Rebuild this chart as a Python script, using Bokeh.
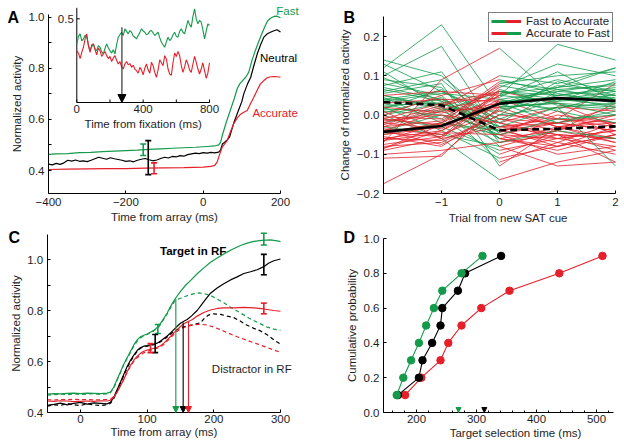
from bokeh.plotting import figure
from bokeh.layouts import column, row
from bokeh.models import (ColumnDataSource, Whisker, TeeHead, Arrow, NormalHead,
                          FixedTicker, Range1d, Legend, LegendItem, LinearAxis)
from bokeh.core.properties import value
from bokeh.embed import file_html
from bokeh.resources import INLINE

# ---------------- Panel A: time from array (ms) ----------------
A_FAST_T = [-400,-380,-350,-320,-290,-260,-230,-200,-170,-140,-110,-80,-50,-20,10,30,40,45,50,60,
            70,80,88,95,102,110,118,126,135,145,153,160,166,175,183,190,200]
A_FAST_V = [0.463,0.465,0.466,0.470,0.471,0.474,0.476,0.478,0.480,0.483,0.485,0.487,0.489,0.491,0.494,
            0.496,0.500,0.510,0.540,0.590,0.635,0.680,0.720,0.740,0.752,0.765,0.785,0.830,0.870,0.910,
            0.940,0.965,0.984,0.997,1.003,1.004,0.998]
A_NEU_T = [-400,-390,-380,-370,-360,-350,-340,-330,-320,-310,-300,-290,-280,-270,-260,-250,-240,-230,
           -220,-210,-200,-190,-180,-170,-160,-150,-140,-130,-120,-110,-100,-90,-80,-70,-60,-50,-40,
           -30,-20,-10,0,10,20,30,40,45,50,55,62,68,75,80,90,100,105,115,123,131,140,148,157,166,174,
           183,191,200]
A_NEU_V = [0.425,0.422,0.428,0.424,0.430,0.440,0.437,0.441,0.436,0.438,0.435,0.440,0.446,0.452,0.448,
           0.444,0.450,0.446,0.443,0.440,0.436,0.438,0.434,0.440,0.444,0.447,0.442,0.438,0.441,0.447,
           0.452,0.449,0.455,0.453,0.458,0.456,0.462,0.465,0.468,0.466,0.470,0.468,0.471,0.469,0.472,
           0.480,0.505,0.510,0.520,0.530,0.565,0.590,0.630,0.670,0.700,0.740,0.765,0.810,0.857,0.890,
           0.922,0.935,0.941,0.947,0.951,0.942]
A_ACC_T = [-400,-350,-300,-250,-200,-150,-100,-50,0,20,30,36,42,49,56,62,70,79,88,95,105,114,122,131,
           140,148,157,166,175,183,191,200]
A_ACC_V = [0.404,0.405,0.406,0.407,0.407,0.409,0.410,0.411,0.413,0.416,0.420,0.433,0.460,0.490,0.505,
           0.517,0.550,0.583,0.605,0.618,0.628,0.635,0.660,0.687,0.715,0.739,0.752,0.763,0.767,0.768,
           0.767,0.765]
A_ERR_T = [-155, -142, -127]           # fast, neutral, accurate
A_ERR_LO = [0.459, 0.384, 0.387]
A_ERR_HI = [0.504, 0.517, 0.430]

# inset: time from fixation (ms)
INSET_T = list(range(0, 801, 10))
INSET_FAST = [0.440,0.458,0.464,0.447,0.452,0.461,0.456,0.437,0.424,0.433,
              0.440,0.428,0.424,0.436,0.432,0.421,0.416,0.429,0.440,0.431,
              0.424,0.418,0.426,0.416,0.438,0.456,0.462,0.468,0.460,0.476,
              0.470,0.464,0.472,0.468,0.459,0.456,0.452,0.460,0.467,0.476,
              0.471,0.468,0.462,0.464,0.470,0.472,0.466,0.460,0.464,0.468,
              0.455,0.444,0.438,0.432,0.445,0.456,0.448,0.452,0.462,0.468,
              0.458,0.456,0.470,0.476,0.468,0.464,0.480,0.496,0.486,0.480,
              0.505,0.524,0.500,0.488,0.496,0.492,0.474,0.452,0.470,0.488,
              0.484]
INSET_ACC = [0.424,0.418,0.405,0.420,0.432,0.452,0.464,0.436,0.420,0.438,
             0.440,0.426,0.414,0.430,0.424,0.410,0.416,0.422,0.412,0.405,
             0.410,0.398,0.406,0.412,0.401,0.392,0.398,0.385,0.380,0.392,
             0.398,0.390,0.393,0.384,0.389,0.380,0.376,0.370,0.384,0.378,
             0.366,0.382,0.392,0.378,0.370,0.396,0.388,0.372,0.360,0.378,
             0.402,0.395,0.388,0.412,0.404,0.380,0.368,0.365,0.395,0.418,
             0.410,0.422,0.412,0.388,0.372,0.385,0.402,0.392,0.378,0.372,
             0.392,0.410,0.396,0.380,0.368,0.380,0.395,0.376,0.358,0.370,
             0.395]
INSET_ARROW_T = 272
INSET_ARROW_TOP = 0.48

# ---------------- Panel B: trial from new SAT cue ----------------
B_TRIALS = [-2, -1, 0, 1, 2]
B_FAST_TO_ACC = [
    [0.14, 0.10, -0.02, -0.05, -0.06], [0.12, 0.23, 0.02, -0.03, -0.02],
    [0.10, 0.175, -0.05, -0.06, -0.04], [0.08, 0.05, -0.08, -0.04, -0.07],
    [0.06, 0.09, -0.03, -0.02, 0.00], [0.05, 0.02, -0.06, -0.09, -0.05],
    [0.04, 0.06, 0.00, -0.01, -0.03], [0.03, -0.01, -0.10, -0.05, -0.12],
    [0.02, 0.04, -0.04, -0.07, -0.02], [0.01, 0.00, -0.07, -0.03, -0.06],
    [0.00, 0.03, -0.02, 0.02, 0.01], [-0.01, -0.03, -0.09, -0.06, -0.04],
    [-0.02, 0.01, -0.05, -0.10, -0.08], [0.07, 0.04, -0.01, -0.04, 0.03],
    [0.09, 0.07, -0.06, -0.08, -0.05], [0.11, 0.02, -0.12, -0.07, -0.10],
    [0.035, 0.055, 0.04, -0.01, -0.02], [0.045, -0.02, -0.04, -0.02, 0.02],
    [0.025, 0.03, -0.03, -0.05, -0.06], [-0.03, -0.05, -0.08, -0.13, -0.12],
    [0.055, 0.08, -0.13, -0.03, -0.01], [0.015, 0.01, 0.06, 0.03, -0.03],
    [-0.05, -0.02, -0.05, -0.02, -0.04], [0.065, 0.035, -0.02, -0.06, -0.08],
    [0.005, 0.045, -0.06, -0.04, 0.00], [0.02, -0.04, -0.11, -0.08, -0.05],
    [-0.04, 0.00, -0.04, 0.00, -0.02], [0.05, 0.015, 0.01, -0.03, -0.07],
    [0.00, -0.06, -0.165, -0.12, -0.09], [0.04, 0.03, -0.03, -0.01, 0.08],
    [0.13, 0.06, -0.01, -0.02, -0.04], [0.075, 0.11, -0.07, -0.05, -0.09],
    [0.015, 0.065, -0.035, -0.08, -0.03], [0.095, 0.035, -0.045, 0.01, -0.05],
]
B_ACC_TO_FAST = [
    [-0.175, -0.10, 0.02, 0.03, 0.02], [-0.11, -0.105, 0.04, 0.06, 0.05],
    [-0.09, -0.06, 0.06, 0.05, 0.07], [-0.08, -0.07, 0.00, 0.02, 0.03],
    [-0.07, 0.09, 0.17, 0.04, 0.06], [-0.06, -0.04, 0.03, 0.07, 0.09],
    [-0.05, -0.03, 0.08, 0.10, 0.11], [-0.045, -0.02, 0.05, 0.18, 0.14],
    [-0.04, 0.01, 0.02, 0.03, 0.00], [-0.035, -0.05, 0.01, 0.05, 0.04],
    [-0.03, -0.015, 0.07, 0.13, 0.10], [-0.025, 0.02, 0.10, 0.08, 0.12],
    [-0.02, -0.035, 0.04, 0.01, -0.02], [-0.015, 0.00, -0.02, 0.06, 0.08],
    [-0.01, 0.03, 0.06, 0.04, 0.05], [0.00, 0.05, 0.09, 0.055, 0.03],
    [0.01, -0.06, -0.03, 0.02, -0.13], [0.03, 0.04, 0.035, 0.045, 0.02],
    [0.05, 0.06, 0.05, 0.09, 0.06], [-0.055, -0.08, 0.015, 0.035, 0.045],
    [-0.065, -0.045, -0.05, -0.01, 0.00], [-0.085, -0.025, 0.025, 0.065, 0.075],
    [-0.10, -0.09, -0.07, -0.04, -0.06], [-0.03, 0.015, 0.045, 0.11, 0.035],
    [-0.075, -0.055, 0.065, 0.025, 0.015], [-0.005, -0.01, 0.075, 0.05, 0.065],
    [-0.06, -0.065, 0.00, 0.085, 0.05], [0.02, 0.005, 0.03, -0.02, 0.01],
    [-0.04, -0.075, -0.01, 0.04, 0.025], [-0.02, 0.025, 0.055, 0.07, 0.12],
    [-0.065, -0.02, 0.085, 0.065, 0.04], [-0.045, -0.055, 0.035, 0.015, 0.055],
    [-0.085, -0.04, 0.05, 0.035, 0.085], [-0.01, -0.025, 0.02, 0.075, 0.06],
]
B_MEAN_ACC_TO_FAST = [-0.043, -0.028, 0.029, 0.043, 0.036]   # solid
B_MEAN_FAST_TO_ACC = [0.033, 0.025, -0.039, -0.035, -0.029]   # dashed

# ---------------- Panel C: time from array (ms) ----------------
C_FAST_T = [-50,-40,-30,-20,-10,0,10,20,30,40,45,50,55,60,65,70,75,80,85,90,95,100,105,110,117,124,
            130,136,142,150,158,166,175,185,195,205,215,228,240,250,260,272,285,295,300]
C_FAST_V = [0.472,0.474,0.473,0.475,0.476,0.474,0.476,0.475,0.474,0.476,0.480,0.500,0.530,0.560,0.590,
            0.615,0.640,0.665,0.685,0.697,0.703,0.708,0.715,0.722,0.738,0.765,0.790,0.820,0.846,0.875,
            0.900,0.920,0.944,0.967,0.989,1.006,1.022,1.040,1.055,1.064,1.071,1.075,1.077,1.073,1.070]
C_FAST_D_T = [-50,-40,-30,-20,-10,0,10,20,30,40,45,50,55,60,65,70,75,80,85,90,95,100,105,110,117,124,
              130,136,142,150,160,170,178,186,195,205,215,225,240,255,268,280,290,300]
C_FAST_D_V = [0.468,0.470,0.472,0.470,0.473,0.471,0.472,0.474,0.471,0.473,0.478,0.497,0.527,0.557,0.588,
              0.612,0.636,0.660,0.680,0.693,0.700,0.706,0.713,0.720,0.735,0.762,0.787,0.815,0.840,0.848,
              0.858,0.866,0.869,0.866,0.859,0.845,0.830,0.813,0.790,0.767,0.750,0.735,0.727,0.722]
C_NEU_T = [-50,-40,-30,-20,-10,0,10,20,30,40,45,50,55,60,65,70,75,80,85,90,95,100,105,110,115,120,125,
           130,135,140,145,150,155,160,167,175,185,195,205,215,225,235,245,255,265,275,282,290,300]
C_NEU_V = [0.428,0.432,0.437,0.430,0.436,0.440,0.433,0.438,0.436,0.434,0.440,0.460,0.490,0.520,0.550,
           0.580,0.605,0.625,0.643,0.655,0.660,0.662,0.665,0.668,0.672,0.680,0.690,0.700,0.712,0.725,
           0.738,0.750,0.758,0.765,0.780,0.800,0.835,0.868,0.888,0.905,0.920,0.932,0.945,0.952,0.960,
           0.972,0.985,0.995,1.002]
C_NEU_D_T = [-50,-40,-30,-20,-10,0,10,20,30,40,45,50,55,60,65,70,75,80,85,90,95,100,105,110,115,120,
             125,130,135,140,150,160,170,180,186,192,200,210,220,230,240,250,260,270,280,290,300]
C_NEU_D_V = [0.425,0.430,0.428,0.435,0.430,0.427,0.435,0.430,0.427,0.430,0.436,0.455,0.485,0.515,0.545,
             0.575,0.600,0.622,0.640,0.652,0.657,0.660,0.663,0.666,0.670,0.677,0.686,0.696,0.707,0.718,
             0.732,0.740,0.745,0.752,0.770,0.782,0.787,0.785,0.778,0.772,0.758,0.742,0.730,0.720,0.705,
             0.685,0.668]
C_ACC_T = [-50,-40,-30,-20,-10,0,10,20,30,40,45,50,55,60,65,70,75,80,85,90,95,100,105,110,115,120,125,
           130,135,140,145,150,155,160,168,175,185,195,205,215,230,245,260,275,290,300]
C_ACC_V = [0.445,0.444,0.446,0.445,0.443,0.444,0.445,0.444,0.446,0.445,0.448,0.460,0.480,0.505,0.530,
           0.560,0.585,0.605,0.620,0.632,0.640,0.645,0.648,0.652,0.656,0.662,0.672,0.685,0.698,0.712,
           0.725,0.737,0.748,0.755,0.765,0.778,0.792,0.802,0.808,0.810,0.810,0.812,0.810,0.806,0.800,
           0.797]
C_ACC_D_T = [-50,-40,-30,-20,-10,0,10,20,30,40,45,50,55,60,65,70,75,80,85,90,95,100,105,110,115,120,
             125,130,135,140,145,150,160,170,180,190,200,210,220,235,250,265,280,290,300]
C_ACC_D_V = [0.450,0.449,0.451,0.450,0.452,0.450,0.451,0.449,0.450,0.451,0.452,0.462,0.482,0.506,0.530,
             0.558,0.582,0.601,0.615,0.626,0.634,0.640,0.644,0.648,0.652,0.658,0.667,0.680,0.693,0.706,
             0.718,0.728,0.738,0.744,0.746,0.743,0.735,0.725,0.713,0.697,0.683,0.669,0.655,0.645,0.636]
C_ERR_FAST = dict(t=[116, 275], lo=[0.710, 1.057], hi=[0.745, 1.103])
C_ERR_NEU = dict(t=[112, 275], lo=[0.635, 0.940], hi=[0.706, 1.020])
C_ERR_ACC = dict(t=[105, 275], lo=[0.635, 0.787], hi=[0.670, 0.829])
C_SEL_T = [143, 154, 162]             # target selection times: fast, neutral, accurate
C_SEL_TOP = [0.845, 0.753, 0.758]

# ---------------- Panel D: cumulative target selection time ----------------
D_PROB = [0.1, 0.2, 0.3, 0.4, 0.5, 0.6, 0.7, 0.8, 0.9]
D_FAST = [167, 178, 191, 204, 216, 229, 243, 275, 310]
D_NEU = [169, 204, 210, 226, 240, 243, 269, 281, 341]
D_ACC = [181, 208, 240, 253, 275, 308, 355, 438, 510]
D_MEAN_FAST = 270
D_MEAN_NEU = 313

# tick labels
A_XTICKS, A_XLABELS = [-400, -200, 0, 200], ["\u2212400", "\u2212200", "0", "200"]
A_YTICKS, A_YLABELS = [0.4, 0.6, 0.8, 1.0], ["0.4", "0.6", "0.8", "1.0"]
INSET_XTICKS, INSET_XLABELS = [0, 400, 800], ["0", "400", "800"]
B_XTICKS, B_XLABELS = [-1, 0, 1, 2], ["\u22121", "0", "1", "2"]
B_YTICKS, B_YLABELS = [-0.2, -0.1, 0.0, 0.1, 0.2], ["\u22120.2", "\u22120.1", "0.0", "0.1", "0.2"]
C_XTICKS, C_XLABELS = [0, 100, 200, 300], ["0", "100", "200", "300"]
C_YTICKS, C_YLABELS = [0.4, 0.6, 0.8, 1.0], ["0.4", "0.6", "0.8", "1.0"]
D_XTICKS, D_XLABELS = [200, 300, 400, 500], ["200", "300", "400", "500"]
D_YTICKS, D_YLABELS = [0.0, 0.2, 0.4, 0.6, 0.8, 1.0], ["0.0", "0.2", "0.4", "0.6", "0.8", "1.0"]

# ---------------- style ----------------
GREEN = "#139a4a"
RED = "#e5202a"
BLACK = "#000000"
TXT = "#1e1e1e"
FONT = "Liberation Sans"
FS = "11.5px"


def lin_range(va, pa, vb, pb, size):
    """range covering pixels 0..size, given two (value, pixel) anchor points"""
    k = (vb - va) / (pb - pa)
    a, b = va - pa * k, va + (size - pa) * k
    return (min(a, b), max(a, b))


def base_fig(w, h, xanchor, yanchor):
    xr = lin_range(*xanchor, w)
    yr = lin_range(*yanchor, h)
    p = figure(width=w, height=h, x_range=Range1d(*xr), y_range=Range1d(*yr),
               output_backend="svg", toolbar_location=None, x_axis_location=None,
               y_axis_location=None, min_border=0)
    p.grid.visible = False
    p.outline_line_color = None
    p.background_fill_color = "white"
    p.border_fill_color = "white"
    return p, xr, yr


def add_axis(p, side, loc, ticks, labels, label, bounds, minor=(), lstand=4, astand=2):
    ax = LinearAxis(fixed_location=loc)
    ax.ticker = FixedTicker(ticks=list(ticks), minor_ticks=list(minor))
    ax.major_label_overrides = dict(zip(ticks, labels))
    ax.bounds = bounds
    ax.axis_label = label
    ax.major_tick_in = 3
    ax.major_tick_out = 0
    ax.minor_tick_in = 3
    ax.minor_tick_out = 0
    ax.axis_line_color = "black"
    ax.major_tick_line_color = "black"
    ax.minor_tick_line_color = "black"
    ax.major_label_text_font = FONT
    ax.major_label_text_font_size = FS
    ax.major_label_text_color = TXT
    ax.major_label_standoff = lstand
    ax.axis_label_text_font = FONT
    ax.axis_label_text_font_size = FS
    ax.axis_label_text_font_style = "normal"
    ax.axis_label_text_color = TXT
    ax.axis_label_standoff = astand
    p.add_layout(ax, side)
    return ax


def txt(p, x, y, s, color=TXT, align="center", baseline="middle", bold=False, size=FS, **kw):
    return p.text(x=[x], y=[y], text=[s], text_color=color, text_align=align,
                  text_baseline=baseline, text_font=value(FONT), text_font_size=value(size),
                  text_font_style="bold" if bold else "normal", **kw)


def panel_letter(p, xr, yr, s, dx, dy):
    txt(p, xr[0], yr[1], s, "black", align="left", baseline="top", bold=True, size="16px",
        x_offset=dx, y_offset=dy)


def whisker(p, t, lo, hi, color):
    src = ColumnDataSource(dict(t=t, lo=lo, hi=hi))
    p.add_layout(Whisker(source=src, base="t", lower="lo", upper="hi", dimension="height",
                         line_color=color, line_width=1.6, level="annotation",
                         upper_head=TeeHead(size=6, line_color=color, line_width=1.6),
                         lower_head=TeeHead(size=6, line_color=color, line_width=1.6)))


# ================= Panel A =================
AW, AH = 316, 224
pA, axr, ayr = base_fig(AW, AH, (-400, 48, 200, 280), (0.4, 170, 1.0, 16.7))
add_axis(pA, "below", 0.309, A_XTICKS, A_XLABELS, "Time from array (ms)", (-400, 200),
         lstand=4, astand=2)
add_axis(pA, "left", -400, A_YTICKS, A_YLABELS, "Normalized activity", (0.309, 1.01),
         minor=[0.5, 0.7, 0.9], lstand=4, astand=3)
pA.line(A_FAST_T, A_FAST_V, line_color=GREEN, line_width=1.2)
pA.line(A_NEU_T, A_NEU_V, line_color=BLACK, line_width=1.2)
pA.line(A_ACC_T, A_ACC_V, line_color=RED, line_width=1.2)
for i, c in enumerate([GREEN, BLACK, RED]):
    whisker(pA, [A_ERR_T[i]], [A_ERR_LO[i]], [A_ERR_HI[i]], c)
txt(pA, 218, 1.026, "Fast", GREEN)
txt(pA, 195, 0.841, "Neutral", BLACK)
txt(pA, 186, 0.626, "Accurate", RED)
panel_letter(pA, axr, ayr, "A", 7, 8)

# inset (its own scales, mapped onto a box inside panel A)
ixr = lin_range(0, 76.3, 800, 209, AW)
iyr = lin_range(0.5, 18.3, 0.3, 102, AH)
pA.extra_x_ranges = {"ix": Range1d(*ixr)}
pA.extra_y_ranges = {"iy": Range1d(*iyr)}
ik = dict(x_range_name="ix", y_range_name="iy")
ipx = (209 - 76.3) / 800
ipy = (102 - 18.3) / 0.2
IY0, IY1 = 0.3, 0.5 + 11 / ipy
pA.line([0, 0, 800], [IY1, IY0, IY0], line_color="black", line_width=1, **ik)
pA.segment(x0=[0, 200, 400, 600, 800], y0=[IY0] * 5, x1=[0, 200, 400, 600, 800],
           y1=[IY0 + 3 / ipy] * 5, line_color="black", **ik)
pA.segment(x0=[0], y0=[0.5], x1=[3 / ipx], y1=[0.5], line_color="black", **ik)
pA.line(INSET_T, INSET_FAST, line_color=GREEN, line_width=1.1, **ik)
pA.line(INSET_T, INSET_ACC, line_color=RED, line_width=1.1, **ik)
pA.add_layout(Arrow(x_start=INSET_ARROW_T, y_start=INSET_ARROW_TOP, x_end=INSET_ARROW_T, y_end=IY0,
                    line_color="#333333", line_width=1.2,
                    end=NormalHead(size=8, fill_color="black", line_color="black"), **ik))
pA.text(x=INSET_XTICKS, y=[IY0] * 3, text=INSET_XLABELS, text_align="center", text_baseline="top",
        y_offset=2, text_font=value(FONT), text_font_size=value(FS), text_color=TXT, **ik)
pA.text(x=[0], y=[0.5], text=["0.5"], text_align="right", text_baseline="middle", x_offset=-3,
        text_font=value(FONT), text_font_size=value(FS), text_color=TXT, **ik)
pA.text(x=[400], y=[IY0], text=["Time from fixation (ms)"], text_align="center",
        text_baseline="top", y_offset=15, text_font=value(FONT), text_font_size=value(FS),
        text_color=TXT, **ik)

# ================= Panel B =================
BW, BH = 308, 224
pB, bxr, byr = base_fig(BW, BH, (-2, 67, 2, 299), (0.2, 36, -0.2, 193))
add_axis(pB, "below", -0.2, B_XTICKS, B_XLABELS, "", (-2, 2), lstand=4, astand=0)
add_axis(pB, "left", -2, B_YTICKS, B_YLABELS, "Change of normalized activity", (-0.2, 0.25),
         lstand=4, astand=3)
txt(pB, 0.15, -0.2, "Trial from new SAT cue", baseline="top", y_offset=18)


def halves(lines):
    lx = [B_TRIALS[:3] for _ in lines]
    ly = [v[:3] for v in lines]
    rx = [B_TRIALS[2:] for _ in lines]
    ry = [v[2:] for v in lines]
    return lx, ly, rx, ry


fa = halves(B_FAST_TO_ACC)
af = halves(B_ACC_TO_FAST)
pB.multi_line(fa[0], fa[1], line_color=GREEN, line_width=0.8)
pB.multi_line(af[0], af[1], line_color=RED, line_width=0.8)
pB.multi_line(fa[2], fa[3], line_color=RED, line_width=0.8)
pB.multi_line(af[2], af[3], line_color=GREEN, line_width=0.8)
pB.line(B_TRIALS, B_MEAN_ACC_TO_FAST, line_color="black", line_width=2.6)
pB.line(B_TRIALS, B_MEAN_FAST_TO_ACC, line_color="black", line_width=2.6, line_dash="7 4")

# legend swatches (drawn off-range; only their legend glyphs are seen)
OFF_X, OFF_Y = [bxr[1] + 5, bxr[1] + 6], [0, 0]
lg1 = pB.line(OFF_X, OFF_Y, line_color=GREEN, line_width=3)
lr1 = pB.line(OFF_X, OFF_Y, line_color=RED, line_width=3, line_dash="0 15 15")
lr2 = pB.line(OFF_X, OFF_Y, line_color=RED, line_width=3)
lg2 = pB.line(OFF_X, OFF_Y, line_color=GREEN, line_width=3, line_dash="0 15 15")
leg = Legend(items=[LegendItem(label="Fast to Accurate", renderers=[lg1, lr1]),
                    LegendItem(label="Accurate to Fast", renderers=[lr2, lg2])],
             location=(172, BH - 42), margin=0, padding=2, spacing=0, label_standoff=5,
             glyph_width=30, glyph_height=12, label_height=12,
             border_line_color="black", border_line_width=1, background_fill_alpha=1,
             label_text_font=FONT, label_text_font_size=FS, label_text_color=TXT)
pB.add_layout(leg)
panel_letter(pB, bxr, byr, "B", 27, 8)

# ================= Panel C =================
CW, CH = 316, 222
pC, cxr, cyr = base_fig(CW, CH, (0, 80, 300, 280), (0.4, 188, 1.0, 35))
add_axis(pC, "below", 0.4, C_XTICKS, C_XLABELS, "Time from array (ms)", (-50, 300),
         lstand=2, astand=0)
add_axis(pC, "left", -50, C_YTICKS, C_YLABELS, "Normalized activity", (0.4, 1.1),
         minor=[0.5, 0.7, 0.9], lstand=4, astand=3)
DASH = "4 3"
pC.line(C_FAST_D_T, C_FAST_D_V, line_color=GREEN, line_width=1.2, line_dash=DASH)
pC.line(C_NEU_D_T, C_NEU_D_V, line_color=BLACK, line_width=1.2, line_dash=DASH)
pC.line(C_ACC_D_T, C_ACC_D_V, line_color=RED, line_width=1.2, line_dash=DASH)
pC.line(C_FAST_T, C_FAST_V, line_color=GREEN, line_width=1.2)
pC.line(C_NEU_T, C_NEU_V, line_color=BLACK, line_width=1.2)
pC.line(C_ACC_T, C_ACC_V, line_color=RED, line_width=1.2)
for err, c in [(C_ERR_FAST, GREEN), (C_ERR_NEU, BLACK), (C_ERR_ACC, RED)]:
    whisker(pC, err["t"], err["lo"], err["hi"], c)
for t, top, c in zip(C_SEL_T, C_SEL_TOP, [GREEN, BLACK, RED]):
    pC.add_layout(Arrow(x_start=t, y_start=top, x_end=t, y_end=0.4, line_color=c, line_width=1.1,
                        end=NormalHead(size=6, fill_color=c, line_color=c)))
txt(pC, 169, 1.035, "Target in RF", BLACK, bold=True)
txt(pC, 197, 0.57, "Distractor in RF", align="left")
panel_letter(pC, cxr, cyr, "C", 8, 4)

# ================= Panel D =================
DW, DH = 308, 222
pD, dxr, dyr = base_fig(DW, DH, (200, 100, 500, 280), (0.0, 188, 1.0, 14))
D_X0, D_X1 = 145, 528
dax = add_axis(pD, "below", 0.0, D_XTICKS, D_XLABELS, "", (D_X0, D_X1),
               minor=list(range(160, 521, 20)), lstand=2, astand=0)
dax.minor_tick_in = 2
add_axis(pD, "left", D_X0, D_YTICKS, D_YLABELS, "Cumulative probability", (0, 1.0),
         lstand=4, astand=3)
txt(pD, 365, 0.0, "Target selection time (ms)", baseline="top", y_offset=14)
for xs, c in [(D_ACC, RED), (D_NEU, BLACK), (D_FAST, GREEN)]:
    pD.line(xs, D_PROB, line_color=c, line_width=1.1)
    pD.scatter(xs, D_PROB, size=7.5, fill_color=c, line_color=c)
for t, c in [(D_MEAN_FAST, GREEN), (D_MEAN_NEU, BLACK)]:
    pD.add_layout(Arrow(x_start=t, y_start=0.02, x_end=t, y_end=0.0, line_alpha=0,
                        end=NormalHead(size=5, fill_color=c, line_color=c)))
panel_letter(pD, dxr, dyr, "D", 27, 4)

layout = column(row(pA, pB), row(pC, pD))
open("out.html", "w").write(file_html(layout, INLINE, "SAT figure"))
